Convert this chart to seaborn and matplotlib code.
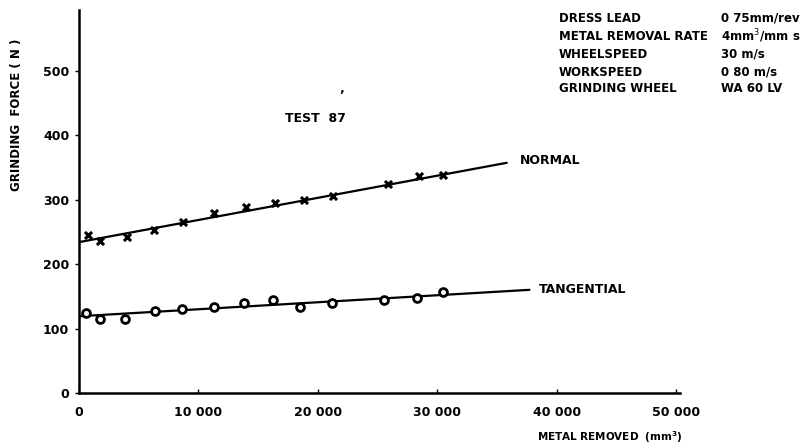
import matplotlib
matplotlib.use("Agg")
import matplotlib.pyplot as plt
import seaborn as sns
import pandas as pd

# ---- data ----
normal_x = [750, 1750, 4000, 6300, 8700, 11300, 14000, 16400, 18800, 21300, 25900, 28450, 30500]
normal_y = [245, 236, 242, 253, 265, 279, 288, 295, 299, 305, 324, 336, 338]
tangential_x = [600, 1750, 3850, 6350, 8600, 11300, 13800, 16200, 18500, 21200, 25500, 28300, 30500]
tangential_y = [124, 115, 115, 127, 130, 133, 140, 144, 133, 139, 144, 148, 156]
normal_line_x = [0, 35800]
normal_line_y = [234, 357]
tangential_line_x = [0, 37700]
tangential_line_y = [119, 160]

x_ticks = [0, 10000, 20000, 30000, 40000, 50000]
x_tick_labels = ["0", "10 000", "20 000", "30 000", "40 000", "50 000"]
y_ticks = [0, 100, 200, 300, 400, 500]
y_tick_labels = ["0", "100", "200", "300", "400", "500"]

info_keys = ["DRESS LEAD", "METAL REMOVAL RATE", "WHEELSPEED", "WORKSPEED", "GRINDING WHEEL"]
info_vals = ["0 75mm/rev", "4mm$^3$/mm s", "30 m/s", "0 80 m/s", "WA 60 LV"]

sns.set_style("ticks")
plt.rcParams["font.family"] = ["DejaVu Sans"]
plt.rcParams["text.color"] = "black"
plt.rcParams["xtick.color"] = "black"
plt.rcParams["ytick.color"] = "black"
plt.rcParams["axes.edgecolor"] = "black"

W, H = 801, 447
fig = plt.figure(figsize=(W / 100, H / 100), dpi=100)
ax_left, ax_right, ax_bottom, ax_top = 79, 680, 393, 10
ax = fig.add_axes([ax_left / W, 1 - ax_bottom / H, (ax_right - ax_left) / W, (ax_bottom - ax_top) / H])

pts_n = pd.DataFrame({"x": normal_x, "y": normal_y})
pts_t = pd.DataFrame({"x": tangential_x, "y": tangential_y})
ln_n = pd.DataFrame({"x": normal_line_x, "y": normal_line_y})
ln_t = pd.DataFrame({"x": tangential_line_x, "y": tangential_line_y})

sns.lineplot(data=ln_n, x="x", y="y", ax=ax, color="black", linewidth=1.6)
sns.lineplot(data=ln_t, x="x", y="y", ax=ax, color="black", linewidth=1.6)
sns.scatterplot(data=pts_n, x="x", y="y", ax=ax, marker="x", s=26, color="black", linewidth=2.2)
sns.scatterplot(data=pts_t, x="x", y="y", ax=ax, marker="o", s=32, facecolor="white",
                edgecolor="black", linewidth=2.0, zorder=3)

ax.set_xlim(0, 50300)
ax.set_ylim(0, 594)
ax.set_xticks(x_ticks)
ax.set_xticklabels(x_tick_labels, fontweight="bold")
ax.set_yticks(y_ticks)
ax.set_yticklabels(y_tick_labels, fontweight="bold")
ax.tick_params(axis="x", direction="in", length=3, width=1, labelsize=9, pad=9)
ax.tick_params(axis="y", direction="out", length=3, width=1, labelsize=9, pad=4)
sns.despine(ax=ax)
for s in ["left", "bottom"]:
    ax.spines[s].set_linewidth(1.8)
ax.set_xlabel("")
ax.set_ylabel("")

fig.text(17 / W, 1 - 115 / H, "GRINDING  FORCE ( N )", rotation=90, ha="center", va="center",
         fontsize=8.5, fontweight="bold")
fig.text(683 / W, 1 - 437 / H, "METAL REMOVED  (mm$^\\mathbf{3}$)", ha="right", va="center",
         fontsize=7.5, fontweight="bold")

ax.text(19800, 426, "TEST  87", ha="center", va="center", fontsize=9, fontweight="bold")
ax.text(22000, 461, "\u2019", ha="center", va="center", fontsize=9, fontweight="bold")
ax.text(36900, 361, "NORMAL", ha="left", va="center", fontsize=9, fontweight="bold")
ax.text(38500, 160, "TANGENTIAL", ha="left", va="center", fontsize=9, fontweight="bold")

rows_y = [18, 36, 54, 72, 89]
for k, v, yy in zip(info_keys, info_vals, rows_y):
    fig.text(559 / W, 1 - yy / H, k, ha="left", va="center", fontsize=8.5, fontweight="bold")
    fig.text(721 / W, 1 - yy / H, v, ha="left", va="center", fontsize=8.5, fontweight="bold")

fig.savefig("out.png", dpi=100)
